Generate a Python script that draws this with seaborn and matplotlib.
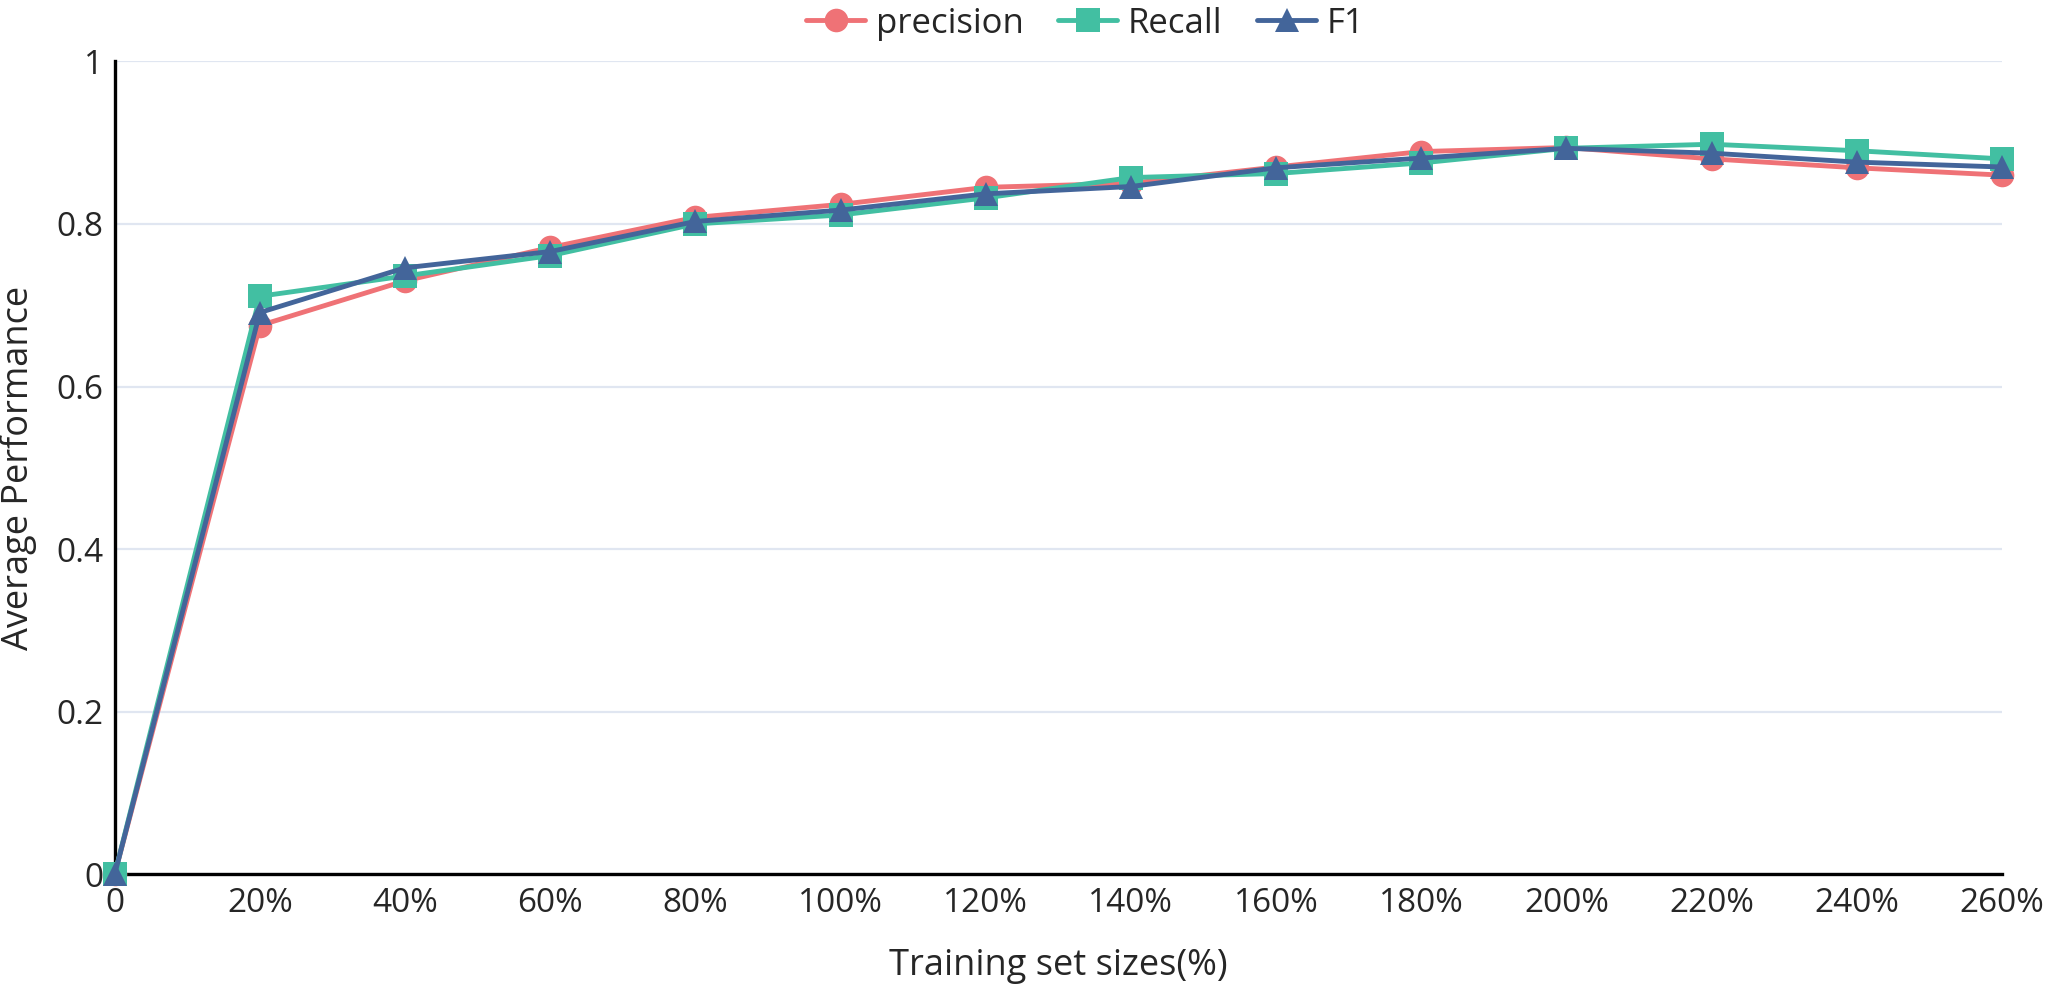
import numpy as np
import pandas as pd
import matplotlib
matplotlib.use("Agg")
import matplotlib.pyplot as plt
import seaborn as sns

# data
sizes = [0, 20, 40, 60, 80, 100, 120, 140, 160, 180, 200, 220, 240, 260]
size_labels = ["0", "20%", "40%", "60%", "80%", "100%", "120%", "140%",
               "160%", "180%", "200%", "220%", "240%", "260%"]
precision = [0, 0.675, 0.730, 0.771, 0.808, 0.824, 0.845, 0.850, 0.870,
             0.889, 0.894, 0.880, 0.869, 0.860]
recall = [0, 0.711, 0.736, 0.761, 0.800, 0.811, 0.832, 0.857, 0.862,
          0.875, 0.893, 0.898, 0.890, 0.880]
f1 = [0, 0.691, 0.746, 0.766, 0.803, 0.817, 0.837, 0.846, 0.869,
      0.881, 0.893, 0.887, 0.876, 0.870]

metrics = ["precision", "Recall", "F1"]
colors = ["#EF7276", "#42BFA2", "#43659A"]
markers = ["o", "s", "^"]

df = pd.DataFrame({
    "size": sizes * 3,
    "value": precision + recall + f1,
    "metric": np.repeat(metrics, len(sizes)),
})

sns.set_style("white")
plt.rcParams["font.family"] = ["Open Sans", "DejaVu Sans"]

fig = plt.figure(figsize=(20.48, 9.89), dpi=100)
ax = fig.add_axes([0.056, 0.116, 0.9215, 0.822])

sns.lineplot(data=df, x="size", y="value", hue="metric", style="metric",
             hue_order=metrics, style_order=metrics,
             palette=colors, markers=markers, dashes=False,
             linewidth=3.5, markersize=17, markeredgewidth=0,
             ax=ax, legend=False, zorder=3)
for line in ax.lines:
    line.set_clip_on(False)

ax.set_xlim(0, 260)
ax.set_ylim(0, 1)
ax.set_xticks(sizes)
ax.set_xticklabels(size_labels)
ax.set_yticks([0, 0.2, 0.4, 0.6, 0.8, 1.0])
ax.set_yticklabels(["0", "0.2", "0.4", "0.6", "0.8", "1"])
ax.yaxis.grid(True, color="#E0E6F1", linewidth=1.6)
ax.set_axisbelow(True)

for s in ["top", "right"]:
    ax.spines[s].set_visible(False)
ax.spines["left"].set_linewidth(2.4)
ax.spines["bottom"].set_linewidth(2.4)
ax.spines["left"].set_color("black")
ax.spines["bottom"].set_color("black")

ax.tick_params(axis="x", which="both", length=6, width=1.2, direction="out",
               labelsize=24, pad=3, color="black")
ax.tick_params(axis="y", length=0, labelsize=24, pad=8)

ax.set_xlabel("Training set sizes(%)", fontsize=26, labelpad=20)
ax.set_ylabel("Average Performance", fontsize=26, labelpad=14)

# legend across the top
handles = [plt.Line2D([], [], color=c, marker=m, linewidth=3.5, markersize=17,
                      markeredgewidth=0) for c, m in zip(colors, markers)]
fig.legend(handles, metrics, loc="upper center", bbox_to_anchor=(0.53, 1.025),
           ncol=3, frameon=False, fontsize=25, handlelength=1.7,
           columnspacing=1.0, handletextpad=0.3)

plt.savefig("out.png", dpi=100)
